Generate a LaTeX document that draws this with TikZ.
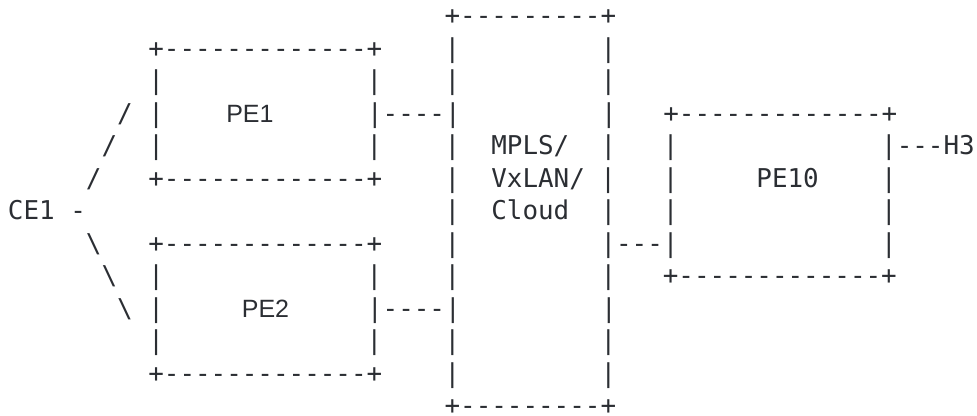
\documentclass[tikz,border=0pt]{standalone}
\usepackage{fontspec}
\setmonofont{DejaVu Sans Mono}
\setsansfont{Liberation Sans}
\usepackage{tikz}
\definecolor{ink}{HTML}{2B2E33}
% blank columns of the drawing
\newcommand{\gap}[1]{\hspace*{#1\fontcharwd\font`M}}
% box labels are set in a sans face
\newcommand{\lbl}[1]{{\sffamily\fontsize{25}{30}\selectfont #1}}
\tikzset{
    %Define style for one line of the drawing
    asciirow/.style={
           anchor=base west,
           inner sep=0pt,
           text=ink,
           font=\ttfamily\fontsize{25.9}{31}\selectfont}
}
\begin{document}
\begin{tikzpicture}[x=1pt,y=-1pt]
\useasboundingbox (0,0) rectangle (977,415);

 %lines
\node[asciirow] (r0) at (7.8,24.5) {\gap{28}+---------+};
\node[asciirow] (r1) at (7.8,57) {\gap{9}+-------------+\gap{4}|\gap{9}|};
\node[asciirow] (r2) at (7.8,89.5) {\gap{9}|\gap{13}|\gap{4}|\gap{9}|};
\node[asciirow] (r3) at (7.8,122) {\gap{7}/\gap{1}|\gap{4}\lbl{PE1}\gap{6}|----|\gap{9}|\gap{3}+-------------+};
\node[asciirow] (r4) at (7.8,154.5) {\gap{6}/\gap{2}|\gap{13}|\gap{4}|\gap{2}MPLS/\gap{2}|\gap{3}|\gap{13}|---H3};
\node[asciirow] (r5) at (7.8,187) {\gap{5}/\gap{3}+-------------+\gap{4}|\gap{2}VxLAN/\gap{1}|\gap{3}|\gap{5}PE10\gap{4}|};
\node[asciirow] (r6) at (7.8,219.5) {CE1\gap{1}-\gap{23}|\gap{2}Cloud\gap{2}|\gap{3}|\gap{13}|};
\node[asciirow] (r7) at (7.8,252) {\gap{5}\textbackslash\gap{3}+-------------+\gap{4}|\gap{9}|---|\gap{13}|};
\node[asciirow] (r8) at (7.8,284.5) {\gap{6}\textbackslash\gap{2}|\gap{13}|\gap{4}|\gap{9}|\gap{3}+-------------+};
\node[asciirow] (r9) at (7.8,317) {\gap{7}\textbackslash\gap{1}|\gap{5}\lbl{PE2}\gap{5}|----|\gap{9}|};
\node[asciirow] (r10) at (7.8,349.5) {\gap{9}|\gap{13}|\gap{4}|\gap{9}|};
\node[asciirow] (r11) at (7.8,382) {\gap{9}+-------------+\gap{4}|\gap{9}|};
\node[asciirow] (r12) at (7.8,414.5) {\gap{28}+---------+};
\end{tikzpicture}
\end{document}
